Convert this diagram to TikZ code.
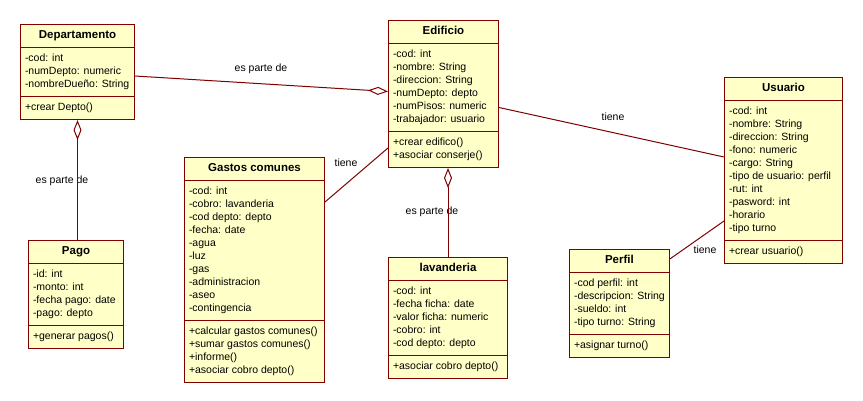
\documentclass[tikz,border=0pt]{standalone}
\usepackage{fontspec}
\setmainfont{Liberation Sans}
\usetikzlibrary{shapes.multipart,arrows.meta}
\definecolor{umlline}{RGB}{128,0,0}
\definecolor{umlfill}{RGB}{255,255,200}
\newcommand{\titulo}[1]{\strut{\fontsize{11.5}{13}\selectfont\bfseries #1}}
\tikzset{
    clase/.style={rectangle split, rectangle split parts=3,
        rectangle split part align={center,left,left},
        draw=umlline, fill=umlfill, line width=1pt, align=left,
        anchor=north west, inner xsep=4.5pt, inner ysep=4.5pt,
        font=\fontsize{10.5}{13}\selectfont},
    rel/.style={draw=umlline, line width=1pt},
    agreg/.style={rel, {Diamond[open,length=20pt,width=8pt]}-},
    etiqueta/.style={inner sep=0pt, font=\fontsize{10.5}{13}\selectfont}
}
\begin{document}
\begin{tikzpicture}[x=1pt,y=-1pt]
            \useasboundingbox[fill=white] (0,0) rectangle (863,400);

            \node[clase, minimum width=114pt] (dep) at (20,24) {\titulo{Departamento}
                \nodepart{second}\strut-cod: int\\-numDepto: numeric\\-nombreDueño: String\strut
                \nodepart{third}\strut+crear Depto()};
            \node[clase, minimum width=110pt] (edif) at (388,20) {\titulo{Edificio}
                \nodepart{second}\strut-cod: int\\-nombre: String\\-direccion: String\\-numDepto: depto\\
                    -numPisos: numeric\\-trabajador: usuario\strut
                \nodepart{third}\strut+crear edifico()\\+asociar conserje()\strut};
            \node[clase, minimum width=118pt] (usu) at (724,77) {\titulo{Usuario}
                \nodepart{second}\strut-cod: int\\-nombre: String\\-direccion: String\\-fono: numeric\\
                    -cargo: String\\-tipo de usuario: perfil\\-rut: int\\-pasword: int\\-horario\\-tipo turno\strut
                \nodepart{third}\strut+crear usuario()};
            \node[clase, minimum width=140pt] (gastos) at (184,157) {\titulo{Gastos comunes}
                \nodepart{second}\strut-cod: int\\-cobro: lavanderia\\-cod depto: depto\\-fecha: date\\
                    -agua\\-luz\\-gas\\-administracion\\-aseo\\-contingencia\strut
                \nodepart{third}\strut+calcular gastos comunes()\\+sumar gastos comunes()\\+informe()\\
                    +asociar cobro depto()\strut};
            \node[clase, minimum width=95pt] (pago) at (28,240) {\titulo{Pago}
                \nodepart{second}\strut-id: int\\-monto: int\\-fecha pago: date\\-pago: depto\strut
                \nodepart{third}\strut+generar pagos()};
            \node[clase, minimum width=119pt] (lav) at (388,257) {\titulo{lavanderia}
                \nodepart{second}\strut-cod: int\\-fecha ficha: date\\-valor ficha: numeric\\-cobro: int\\
                    -cod depto: depto\strut
                \nodepart{third}\strut+asociar cobro depto()};
            \node[clase, minimum width=99pt] (perfil) at (569,249) {\titulo{Perfil}
                \nodepart{second}\strut-cod perfil: int\\-descripcion: String\\-sueldo: int\\-tipo turno: String\strut
                \nodepart{third}\strut+asignar turno()};

            \node[etiqueta] (parte1) at (261,69) {es parte de};
            \node[etiqueta] (parte2) at (62,181) {es parte de};
            \node[etiqueta] (parte3) at (432,212) {es parte de};
            \node[etiqueta] (tiene1) at (346,163) {tiene};
            \node[etiqueta] (tiene2) at (613,117) {tiene};
            \node[etiqueta] (tiene3) at (705,250) {tiene};

            \draw[agreg] ([yshift=2.5pt]edif.west) -- ([yshift=-4pt]dep.east);
            \draw[agreg] (dep.south) -- (dep.south |- pago.north);
            \draw[agreg] (lav.north |- edif.south) -- (lav.north);
            \draw[rel] ([yshift=-45pt]gastos.north east) -- ([yshift=20pt]edif.south west);
            \draw[rel] ([yshift=-13.5pt]edif.east) -- ([yshift=13.5pt]usu.west);
            \draw[rel] ([yshift=-10pt]perfil.north east) -- ([yshift=43pt]usu.south west);
\end{tikzpicture}
\end{document}
